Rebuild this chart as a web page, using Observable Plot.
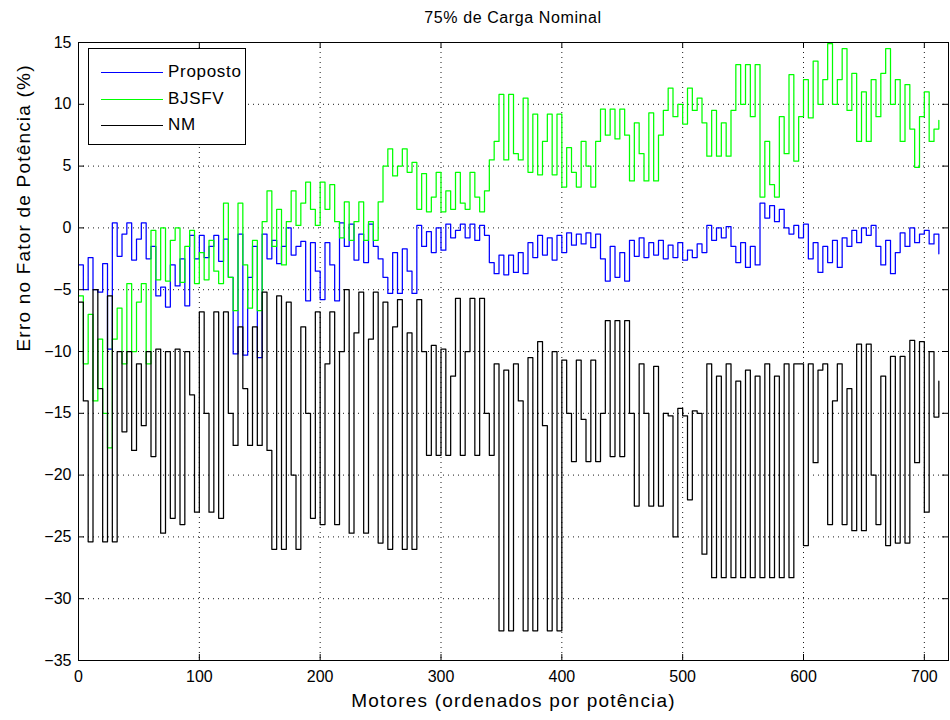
<!DOCTYPE html>
<html>
<head>
<meta charset="utf-8">
<script src="https://cdn.jsdelivr.net/npm/d3@7"></script>
<script src="https://cdn.jsdelivr.net/npm/@observablehq/plot@0.6"></script>
<style>
  body { margin: 0; background: #fff; font-family: "Liberation Sans", Arial, sans-serif; }
  #wrap { position: relative; width: 950px; height: 720px; background: #fff; }
  #title { height: 30px; line-height: 36px; font-size: 16px; letter-spacing: 0.6px; text-align: center; padding-left: 76px; box-sizing: border-box; color: #000; }
  #legend { position: absolute; left: 88px; top: 48px; width: 158px; height: 97px; box-sizing: border-box; border: 1px solid #000; background: #fff; }
  #legend .row { position: absolute; left: 0; height: 22px; width: 100%; }
  #legend .sw { position: absolute; left: 12px; width: 62px; top: 11px; height: 0; border-top: 1.3px solid; }
  #legend .lb { position: absolute; left: 79px; top: 0; line-height: 22px; font-size: 17px; letter-spacing: 0.7px; color: #000; }
</style>
</head>
<body>
<div id="wrap">
  <div id="title"></div>
  <div id="chart"></div>
  <div id="legend"></div>
</div>
<script>
// ---------- data ----------
const titleText = "75% de Carga Nominal";
const xLabel = "Motores (ordenados por potência)";
const yLabel = "Erro no Fator de Potência (%)";
const seriesNames = ["Proposto", "BJSFV", "NM"];
const seriesColors = ["#0000ff", "#00ff00", "#000000"];
const xTicks = [0, 100, 200, 300, 400, 500, 600, 700];
const yTicks = [15, 10, 5, 0, -5, -10, -15, -20, -25, -30, -35];
const motorStep = 4; // one reading every 4 motors (motor index 0..712)

const proposto = [
  -3, -5, -2.4, -5, -5.2, -2.9, -9.8, 0.4, -2.3, -0.5,
  0.4, -2.6, -0.9, 0.4, -2.5, -1.5, -5.5, -4.8, -6.4, -3,
  -4.7, -2.5, -6.3, -0.6, -2.5, -0.6, -2.4, -1.5, -0.6, -2.7,
  -0.9, -4, -10.2, -0.5, -10.3, -4, -1.5, -10.5, -0.5, -2.5,
  -1, -2.9, -1.5, 0, -2.2, -1.5, -1.1, -5.9, -1.2, -3.5,
  -5.8, -1.2, -3, -5.9, 0.4, -1.5, 0.3, -2.6, -0.5, -2.8,
  0.3, -1.5, -2.5, -4, -5.3, -2, -5.3, -1.7, -3.5, -5.3,
  0.2, -1.5, -0.3, -2, 0, -1.8, 0.3, -0.8, -0.2, 0.3,
  -0.8, 0.3, -1, 0.2, -0.6, -2.8, -3.7, -2.2, -3.8, -2.2,
  -3.6, -2, -3.7, -1.2, -2.4, -0.6, -2.2, -0.8, -2.6, -0.6,
  -2, -0.4, -1.4, -0.5, -1.3, -0.4, -1.6, -0.5, -2.5, -4.3,
  -1.5, -4, -2, -4.3, -1, -2.3, -0.8, -2.4, -1.2, -2.2,
  -1, -2.5, -1.4, -2.4, -1.2, -2.6, -1.8, -2.4, -1.3, -2,
  0.2, -1, 0, -0.8, 0.1, -1.5, -2.8, -1.2, -3.2, -1.5,
  -3, 2, 0.8, 1.8, 0.5, 1.5, 0, -0.5, 0.2, -0.8,
  0.3, -2.5, -1.2, -3.6, -1.5, -2.8, -1, -3.2, -0.8, -1.5,
  -0.2, -1.2, 0, -0.6, 0.2, -1.5, -3, -1, -3.7, -2,
  -0.4, -1.5, 0, -1.2, -0.5, -0.2, -1.3, -0.5, -2.1
];

const bjsfv = [
  -5.5, -11, -7, -14, -9, -15, -17.8, -9, -6.5, -11,
  -4.5, -10, -6, -4.5, -11, -0.2, -4.2, 0, -4.3, -1,
  0, -4.4, -1.5, -0.2, -4.5, -2, -4.2, -1, -3.5, -4.5,
  2, -4, -6.7, 2, -3, -6.5, -1, -6.7, 0.5, 3,
  -1.5, 1.5, -3, 0.5, 3, 0.2, 2, 3.7, 1.5, 0.2,
  3.7, 1.5, 3.5, 0.5, -0.8, 2.1, -1, 0.5, 2.1, -1,
  0.5, -1, 2.1, 5, 6.4, 4.2, 5, 6.4, 4.5, 5.3,
  1.5, 4.4, 1.3, 2.5, 4.5, 1.3, 3, 1.5, 4.5, 2,
  1.5, 4.5, 2.5, 1.3, 3, 5.5, 7, 10.8, 5.5, 10.8,
  6, 5.5, 10.5, 4.5, 9.2, 4.3, 7, 9.2, 4.3, 9.2,
  3.3, 6.5, 4.5, 3.3, 7, 5, 3.3, 7, 9.6, 7.5,
  9.6, 7.2, 9.6, 7.5, 3.8, 8.5, 6, 3.8, 9.3, 3.8,
  7.5, 9.5, 11.3, 9, 10, 8.4, 11.3, 9.5, 10.5, 8.5,
  5.8, 9.5, 5.8, 8.5, 5.8, 9.5, 13.2, 10, 13.2, 9,
  13.2, 2.5, 7, 3.5, 2.5, 9, 6, 12.4, 5.4, 9,
  12, 8.9, 13.5, 10, 12, 14.9, 10, 12, 14.5, 9.5,
  12.5, 7, 11, 7, 12, 9, 12.5, 14.5, 10, 12,
  7, 11.6, 8, 4.9, 9, 11, 7, 8, 8.7
];

const nm = [
  -6, -14, -25.4, -5, -13, -25.4, -5.5, -25.4, -10, -16.5,
  -10, -18, -11, -16, -10, -18.5, -9.8, -24.7, -10, -23.5,
  -9.8, -24, -10, -13.5, -23, -6.8, -15, -23, -6.8, -23.5,
  -6.8, -15, -17.6, -8, -13, -17.6, -8, -17.6, -5.2, -18,
  -26, -5.5, -26, -6, -20, -26, -8, -15, -23.5, -6.8,
  -24, -11, -6.8, -24, -10, -5, -24.7, -8.5, -5.2, -24.7,
  -9, -5.2, -25.5, -6, -26, -8, -5.8, -26, -8.5, -26,
  -5.8, -10, -18.4, -9.5, -18.4, -9.8, -18.4, -12, -5.7, -18.4,
  -10, -5.7, -18.4, -5.7, -15, -18.4, -11, -32.6, -11.5, -32.6,
  -11, -14, -32.6, -10.5, -32.6, -9.2, -16, -32.6, -10, -32.6,
  -10.7, -15, -18.9, -10.7, -15.5, -18.9, -10.7, -18.9, -15, -7.5,
  -18.5, -7.5, -18.5, -7.5, -15, -22.5, -11, -15, -22.5, -11.2,
  -22.5, -15, -15.2, -25, -14.6, -15.2, -22, -14.8, -15, -26.4,
  -11, -28.3, -12, -28.3, -11, -28.3, -12.4, -28.3, -11.5, -28.3,
  -12, -28.3, -11, -28.3, -12, -28.3, -11, -28.3, -11, -11,
  -25.7, -11, -19, -11.5, -11, -24, -14, -11, -24, -13,
  -24.5, -9.4, -24.5, -9.4, -20, -24, -12, -25.7, -10.4, -25.5,
  -10.4, -25.5, -9.1, -19, -9.2, -23, -10, -15.3, -12.4
];

// ---------- build table ----------
const seriesValues = [proposto, bjsfv, nm];
const rows = [];
seriesValues.forEach((arr, s) => arr.forEach((v, i) => rows.push({motor: i * motorStep, erro: v, serie: seriesNames[s]})));

document.getElementById("title").textContent = titleText;

const W = 950, H = 690, mL = 78, mR = 2, mT = 12, mB = 60;
const innerW = W - mL - mR, innerH = H - mT - mB, tk = 6;

const chart = Plot.plot({
  width: W, height: H,
  marginLeft: mL, marginRight: mR, marginTop: mT, marginBottom: mB,
  style: {fontFamily: "'Liberation Sans', Arial, sans-serif", fontSize: "16px", color: "#000", background: "#fff", overflow: "visible"},
  x: {domain: [0, 720], ticks: xTicks, label: null},
  y: {domain: [-35, 15], ticks: yTicks, label: null},
  color: {domain: seriesNames, range: seriesColors},
  marks: [
    Plot.gridX(xTicks, {stroke: "#000", strokeOpacity: 0.9, strokeDasharray: "1,4", strokeWidth: 1}),
    Plot.gridY(yTicks, {stroke: "#000", strokeOpacity: 0.9, strokeDasharray: "1,4", strokeWidth: 1}),
    Plot.line(rows, {x: "motor", y: "erro", z: "serie", stroke: "serie", curve: "step-after", strokeWidth: 1.25}),
    // inward tick marks (MATLAB style) on all four sides
    Plot.tickX(xTicks, {x: d => d, insetTop: innerH - tk, stroke: "#000"}),
    Plot.tickX(xTicks, {x: d => d, insetBottom: innerH - tk, stroke: "#000"}),
    Plot.tickY(yTicks, {y: d => d, insetRight: innerW - tk, stroke: "#000"}),
    Plot.tickY(yTicks, {y: d => d, insetLeft: innerW - tk, stroke: "#000"}),
    Plot.axisX(xTicks, {tickSize: 0, tickPadding: 10, label: null, fontSize: 16}),
    Plot.axisY(yTicks, {tickSize: 0, tickPadding: 7, label: null, fontSize: 16}),
    Plot.frame({stroke: "#000", strokeWidth: 1}),
    Plot.text([xLabel], {text: d => d, frameAnchor: "bottom", dy: 46, fontSize: 19, fill: "#000", style: "letter-spacing:1.2px"}),
    Plot.text([yLabel], {text: d => d, frameAnchor: "left", dx: -55, rotate: -90, fontSize: 19, fill: "#000"})
  ]
});
document.getElementById("chart").appendChild(chart);
// MATLAB-like letter spacing on axis labels
chart.querySelectorAll("text").forEach(t => {
  if (t.textContent === xLabel || t.textContent === yLabel) t.setAttribute("letter-spacing", "1.2");
});

// ---------- legend ----------
const legend = document.getElementById("legend");
seriesNames.forEach((name, i) => {
  const row = document.createElement("div");
  row.className = "row";
  row.style.top = (12 + i * 26.5) + "px";
  const sw = document.createElement("div");
  sw.className = "sw";
  sw.style.borderTopColor = seriesColors[i];
  const lb = document.createElement("div");
  lb.className = "lb";
  lb.textContent = name;
  row.appendChild(sw); row.appendChild(lb);
  legend.appendChild(row);
});
</script>
</body>
</html>
